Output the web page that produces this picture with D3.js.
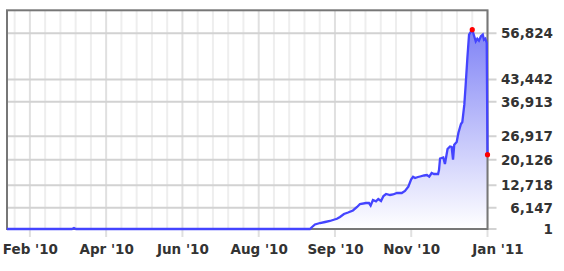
<!DOCTYPE html>
<html><head><meta charset="utf-8">
<script src="https://cdn.jsdelivr.net/npm/d3@7"></script>
<style>
body{margin:0;background:#fff}
svg{display:block}
text{font-family:"DejaVu Sans",sans-serif;font-weight:bold;font-size:13.5px;fill:#333}
</style>
</head><body>
<svg id="c" width="564" height="271"></svg>
<script>
// x position in axis units: 0 = Feb '10 tick, 30 = Jan '11 tick (5 units between labelled ticks)
const periods = [-1.5, 2.76, 2.89, 3.02, 18.36, 18.50, 18.69, 19.02, 19.35, 19.67,
  19.87, 20.13, 20.33, 20.59, 20.86, 21.18, 21.45, 21.64, 22.04, 22.23,
  22.34, 22.49, 22.69, 22.84, 23.02, 23.18, 23.35, 23.61, 23.80, 24.07,
  24.38, 24.59, 24.81, 24.99, 25.12, 25.25, 25.44, 25.58, 25.84, 26.03,
  26.18, 26.34, 26.49, 26.76, 26.82, 26.89, 27.10, 27.21, 27.38, 27.54,
  27.65, 27.74, 27.82, 27.98, 28.09, 28.26, 28.35, 28.48, 28.57, 28.68,
  28.79, 29.00, 29.13, 29.23, 29.33, 29.44, 29.57, 29.69, 29.77, 29.86,
  29.95, 30.00];
const values = [1, 1, 290, 1, 1, 581, 1307, 1742, 2033, 2323,
  2613, 2962, 3484, 4355, 4791, 5372, 6388, 7259, 7549, 7549,
  6823, 8420, 8043, 8711, 8130, 9582, 10163, 9872, 10017, 10453,
  10453, 11034, 12282, 14373, 15186, 14808, 15099, 15244, 15534, 15679,
  15186, 16260, 15970, 15970, 17131, 20470, 20761, 18873, 23229, 23955,
  23810, 20122, 24477, 25261, 27875, 30488, 31069, 36092, 41899, 49652,
  56418, 57869, 55953, 54501, 55256, 54675, 55953, 56418, 54966, 55256,
  54007, 21574];
const xTickPos = [0, 5, 10, 15, 20, 25, 30];
const xTickLabels = ["Feb '10", "Apr '10", "Jun '10", "Aug '10", "Sep '10", "Nov '10", "Jan '11"];
const xMinorPos = d3.range(-1, 30, 1).filter(d => d % 5 !== 0);
const yTicks = [1, 6147, 12718, 20126, 26917, 36913, 43442, 56824];
const xDomain = [-1.5, 30];
const yDomain = [0, 63500];

const svg = d3.select("#c");
const x = d3.scaleLinear().domain(xDomain).range([7, 487.5]);
const y = d3.scaleLinear().domain(yDomain).range([229, 10.3]);
const [L, R] = x.range(), [B, T] = y.range();

const data = periods.map((p, i) => ({p, v: values[i]}));

// gradient
const defs = svg.append("defs");
const maxV = d3.max(values);
const grad = defs.append("linearGradient").attr("id", "g")
  .attr("gradientUnits", "userSpaceOnUse")
  .attr("x1", 0).attr("x2", 0).attr("y1", y(maxV)).attr("y2", y(0));
grad.append("stop").attr("offset", 0).attr("stop-color", "rgb(128,131,246)");
grad.append("stop").attr("offset", 1).attr("stop-color", "#ffffff");

// minor vertical gridlines
svg.append("g").selectAll("line").data(xMinorPos).join("line")
  .attr("x1", d => x(d)).attr("x2", d => x(d)).attr("y1", T).attr("y2", B)
  .attr("stroke", "#eeeeee").attr("stroke-width", 2);
// major vertical gridlines
svg.append("g").selectAll("line").data(xTickPos).join("line")
  .attr("x1", d => x(d)).attr("x2", d => x(d)).attr("y1", T).attr("y2", B + 8)
  .attr("stroke", "#e0e0e0").attr("stroke-width", 2);
// horizontal gridlines
svg.append("g").selectAll("line").data(yTicks).join("line")
  .attr("x1", L).attr("x2", R + 9).attr("y1", d => y(d)).attr("y2", d => y(d))
  .attr("stroke", "#d2d2d2").attr("stroke-width", 2);

// area
svg.append("path").datum(data)
  .attr("d", d3.area().x(d => x(d.p)).y0(y(0)).y1(d => y(d.v)))
  .attr("fill", "url(#g)");

// frame
svg.append("rect").attr("x", L).attr("y", T).attr("width", R - L).attr("height", B - T)
  .attr("fill", "none").attr("stroke", "#777").attr("stroke-width", 2);

// line
svg.append("path").datum(data)
  .attr("d", d3.line().x(d => x(d.p)).y(d => y(d.v)))
  .attr("fill", "none").attr("stroke", "#4444ff").attr("stroke-width", 2.3)
  .attr("stroke-linejoin", "miter");

// markers: max and last
const iMax = d3.maxIndex(values), iLast = values.length - 1;
svg.append("g").selectAll("circle").data([iMax, iLast]).join("circle")
  .attr("cx", i => x(periods[i])).attr("cy", i => y(values[i])).attr("r", 2.6)
  .attr("fill", "#ff0000");

// y axis labels
const yAxis = d3.axisRight(y).tickValues(yTicks).tickSize(0).tickFormat(d3.format(","));
const gy = svg.append("g").attr("transform", `translate(553,0)`).call(yAxis);
gy.select(".domain").remove();
gy.selectAll("text").attr("x", 0).attr("text-anchor", "end")
  .style("font-family", "DejaVu Sans").style("font-weight", "bold").style("font-size", "13.5px").attr("fill", "#333");

// x axis labels
const xAxis = d3.axisBottom(x).tickValues(xTickPos).tickSize(0).tickFormat((d, i) => xTickLabels[i]);
const gx = svg.append("g").attr("transform", `translate(0,${B})`).call(xAxis);
gx.select(".domain").remove();
gx.selectAll("text").attr("y", 25).attr("dy", null)
  .attr("dx", (d, i) => i === xTickPos.length - 1 ? 10 : 0)
  .style("font-family", "DejaVu Sans").style("font-weight", "bold").style("font-size", "13.5px").attr("fill", "#333");
</script>
</body></html>
